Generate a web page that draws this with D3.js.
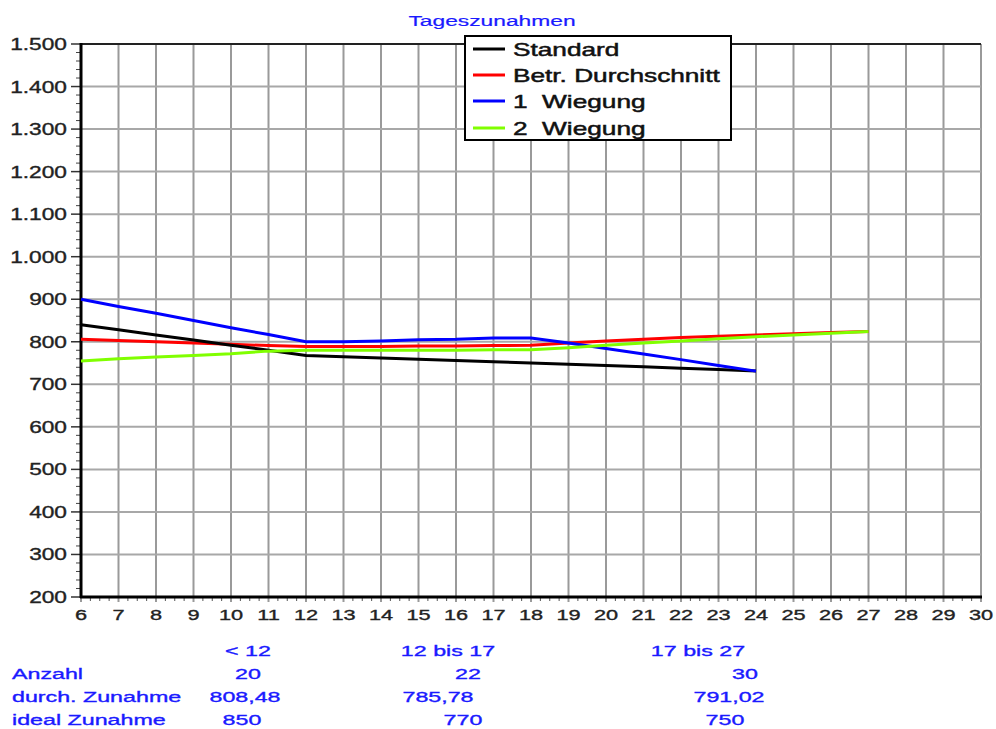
<!DOCTYPE html>
<html>
<head>
<meta charset="utf-8">
<script src="https://cdn.jsdelivr.net/npm/d3@7"></script>
<style>
  html, body { margin: 0; padding: 0; background: #fff; }
  svg { display: block; }
  text { font-family: "Liberation Sans", Arial, sans-serif; white-space: pre; }
</style>
</head>
<body>
<svg id="chart" width="996" height="729"></svg>
<script>
// ---------- data ----------
const title = "Tageszunahmen";
const xTickValues = [6,7,8,9,10,11,12,13,14,15,16,17,18,19,20,21,22,23,24,25,26,27,28,29,30];
const yTickValues = [200,300,400,500,600,700,800,900,1000,1100,1200,1300,1400,1500];
const yTickLabels = ["200","300","400","500","600","700","800","900","1.000","1.100","1.200","1.300","1.400","1.500"];

const seriesNames = ["Standard", "Betr. Durchschnitt", "1  Wiegung", "2  Wiegung"];
const seriesColors = ["#000000", "#ff0000", "#0000ff", "#80ff00"];

const standardX = [6,7,8,9,10,11,12,13,14,15,16,17,18,19,20,21,22,23,24];
const standardY = [840,828,816,804,792,780,768,765,762,759,756,753,750,747,744,741,738,735,731];

const durchschnittX = [6,7,8,9,10,11,12,13,14,15,16,17,18,19,20,21,22,23,24,25,26,27];
const durchschnittY = [806,803,800,797,794,791,789,789,789,790,790,791,792,797,802,806,810,813,816,819,822,824];

const wiegung1X = [6,7,8,9,10,11,12,13,14,15,16,17,18,19,20,21,22,23,24];
const wiegung1Y = [900,883,867,850,833,817,800,800,802,805,806,809,809,797,784,771,758,744,731];

const wiegung2X = [6,7,8,9,10,11,12,13,14,15,16,17,18,19,20,21,22,23,24,25,26,27];
const wiegung2Y = [755,760,764,768,772,778,780,780,780,780,780,781,781,786,792,797,802,807,812,816,820,824];

const tableHeaders = ["< 12", "12 bis 17", "17 bis 27"];
const rowLabels = ["Anzahl", "durch. Zunahme", "ideal Zunahme"];
const anzahl = ["20", "22", "30"];
const durchZunahme = ["808,48", "785,78", "791,02"];
const idealZunahme = ["850", "770", "750"];

// ---------- layout ----------
const svg = d3.select("#chart");
const pL = 81, pR = 981, pT = 44, pB = 597;
const x = d3.scaleLinear().domain([6, 30]).range([pL, pR]);
const y = d3.scaleLinear().domain([200, 1500]).range([pB, pT]);

function txt(g, px, py, s, o) {
  o = o || {};
  const fill = o.fill || "#222";
  return g.append("text")
    .attr("transform", `translate(${px},${py}) scale(${o.sx || 1.45},1)`)
    .attr("text-anchor", o.anchor || "start")
    .attr("font-size", o.size || 15)
    .attr("font-weight", o.weight || "normal")
    .attr("fill", fill)
    .attr("stroke", fill)
    .attr("stroke-width", o.sw == null ? 0.35 : o.sw)
    .attr("xml:space", "preserve")
    .text(s);
}

// grid
const grid = svg.append("g");
grid.selectAll("line.v").data(xTickValues).enter().append("line")
  .attr("x1", d => x(d)).attr("x2", d => x(d))
  .attr("y1", pT).attr("y2", pB + 5)
  .attr("stroke", "#9a9a9a").attr("stroke-width", 2);
grid.selectAll("line.h").data(yTickValues).enter().append("line")
  .attr("x1", pL).attr("x2", pR)
  .attr("y1", d => y(d)).attr("y2", d => y(d))
  .attr("stroke", "#a8a8a8").attr("stroke-width", 2);

// minor ticks y
const yMinor = d3.range(200, 1500, 20).filter(v => v % 100 !== 0);
svg.append("g").selectAll("line").data(yMinor).enter().append("line")
  .attr("x1", pL - 5).attr("x2", pL)
  .attr("y1", d => y(d)).attr("y2", d => y(d))
  .attr("stroke", "#444").attr("stroke-width", 1);
// major ticks y
svg.append("g").selectAll("line").data(yTickValues).enter().append("line")
  .attr("x1", pL - 10).attr("x2", pL)
  .attr("y1", d => y(d)).attr("y2", d => y(d))
  .attr("stroke", "#333").attr("stroke-width", 1.5);
// minor ticks x
const xMinor = d3.range(6, 30, 0.25).filter(v => v % 1 !== 0);
svg.append("g").selectAll("line").data(xMinor).enter().append("line")
  .attr("x1", d => x(d)).attr("x2", d => x(d))
  .attr("y1", pB).attr("y2", pB + 4)
  .attr("stroke", "#555").attr("stroke-width", 1);

// frame
svg.append("line").attr("x1", pL).attr("x2", pR).attr("y1", pT).attr("y2", pT)
  .attr("stroke", "#222").attr("stroke-width", 2);
svg.append("line").attr("x1", pL).attr("x2", pL).attr("y1", pT - 1).attr("y2", pB + 1)
  .attr("stroke", "#000").attr("stroke-width", 3);
svg.append("line").attr("x1", pL - 1).attr("x2", pR + 1).attr("y1", pB).attr("y2", pB)
  .attr("stroke", "#000").attr("stroke-width", 3);

// tick labels
const axisG = svg.append("g");
yTickValues.forEach((v, i) => txt(axisG, 67, y(v) + 6, yTickLabels[i], {anchor: "end", size: 16, sx: 1.42}));
xTickValues.forEach(v => txt(axisG, x(v), 620, String(v), {anchor: "middle", size: 15, sx: 1.45}));

// lines
const series = [
  {xs: standardX, ys: standardY},
  {xs: durchschnittX, ys: durchschnittY},
  {xs: wiegung1X, ys: wiegung1Y},
  {xs: wiegung2X, ys: wiegung2Y}
];
const line = d3.line().x(d => x(d[0])).y(d => y(d[1]));
const drawOrder = [1, 0, 2, 3];
drawOrder.forEach(i => {
  const s = series[i];
  svg.append("path")
    .datum(s.xs.map((v, j) => [v, s.ys[j]]))
    .attr("d", line)
    .attr("fill", "none")
    .attr("stroke", seriesColors[i])
    .attr("stroke-width", 3);
});

// title
txt(svg, 492, 26, title, {anchor: "middle", size: 15, fill: "#1a1aff", sx: 1.52, sw: 0.2});

// legend
const lg = svg.append("g");
lg.append("rect").attr("x", 465).attr("y", 36).attr("width", 266).attr("height", 104)
  .attr("fill", "#fff").attr("stroke", "#000").attr("stroke-width", 2);
const legendRowsY = [49, 75, 101, 128];
seriesNames.forEach((n, i) => {
  lg.append("line").attr("x1", 473).attr("x2", 505)
    .attr("y1", legendRowsY[i]).attr("y2", legendRowsY[i])
    .attr("stroke", seriesColors[i]).attr("stroke-width", 3);
  txt(lg, 513, legendRowsY[i] + 7, n, {size: 19, sx: 1.38, fill: "#111", sw: 0.5});
});

// table
const tg = svg.append("g");
const blue = "#1a1aff";
const headerX = [248, 448, 698];
tableHeaders.forEach((h, i) => txt(tg, headerX[i], 656, h, {anchor: "middle", fill: blue, sx: 1.55}));
const rowY = [679, 702, 725];
rowLabels.forEach((r, i) => txt(tg, 12, rowY[i], r, {fill: blue, sx: 1.55}));
const anzX = [248, 468, 745];
const durX = [245, 438, 729];
const idX = [242, 463, 725];
anzahl.forEach((v, i) => txt(tg, anzX[i], rowY[0], v, {anchor: "middle", fill: blue, sx: 1.55}));
durchZunahme.forEach((v, i) => txt(tg, durX[i], rowY[1], v, {anchor: "middle", fill: blue, sx: 1.55}));
idealZunahme.forEach((v, i) => txt(tg, idX[i], rowY[2], v, {anchor: "middle", fill: blue, sx: 1.55}));
</script>
</body>
</html>
